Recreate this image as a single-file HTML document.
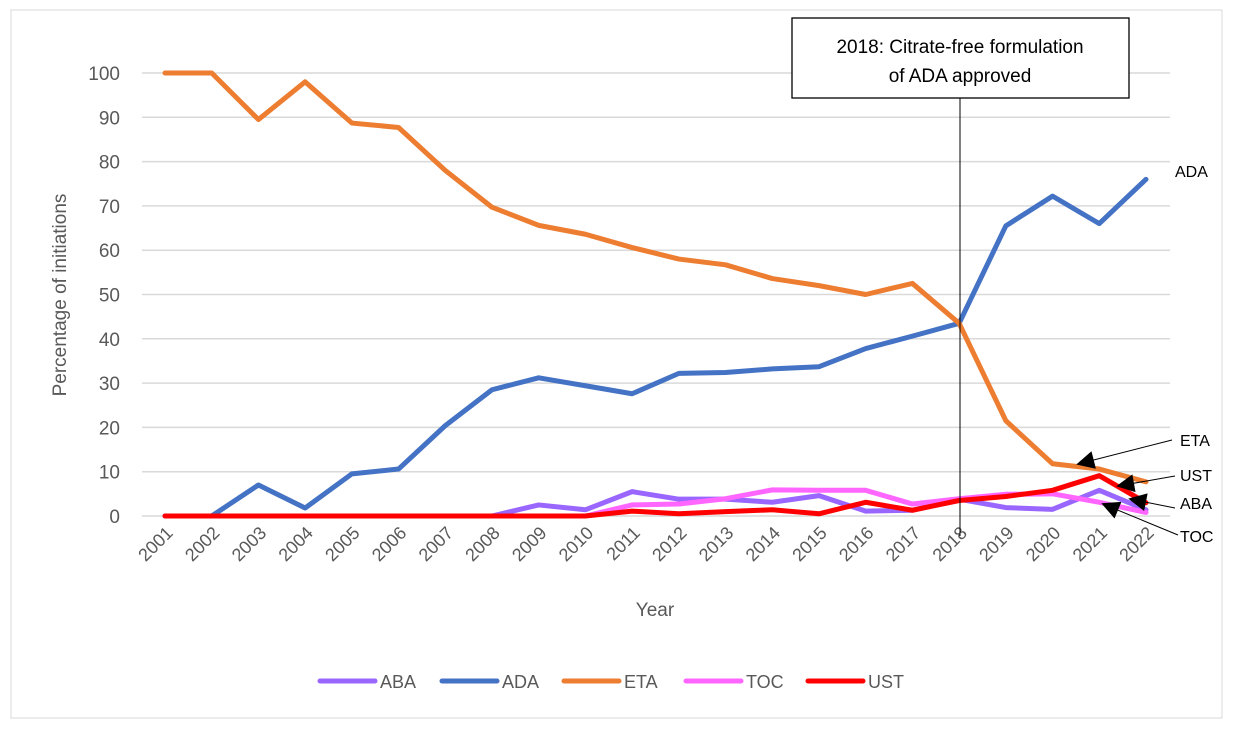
<!DOCTYPE html>
<html><head><meta charset="utf-8"><style>
body{margin:0;background:#fff;font-family:"Liberation Sans",sans-serif;}
</style></head><body>
<svg id="c" width="1233" height="732" xmlns="http://www.w3.org/2000/svg">
<defs><marker id="ah" viewBox="0 0 10 10" refX="9" refY="5" markerWidth="22" markerHeight="18" markerUnits="userSpaceOnUse" orient="auto"><path d="M0,0L10,5L0,10z" fill="#000"/></marker></defs>
<rect x="11" y="10" width="1211" height="708" fill="#fff" stroke="#d9d9d9"/>
<g id="grid"></g><g id="series"></g><g id="ticks"></g>
<line x1="960" y1="98" x2="960" y2="536" stroke="#000" stroke-width="1"/>
<rect x="792" y="18" width="337" height="80" fill="#fff" stroke="#000" stroke-width="1.3"/>
<text x="960" y="53" font-size="19" text-anchor="middle">2018: Citrate-free formulation</text>
<text x="960" y="82" font-size="19" text-anchor="middle">of ADA approved</text>
<text x="66" y="295" font-size="19" fill="#595959" text-anchor="middle" transform="rotate(-90 66 295)">Percentage of initiations</text>
<text x="655" y="616" font-size="19" fill="#595959" text-anchor="middle">Year</text>
<text x="1175" y="177" font-size="16">ADA</text>
<text x="1180" y="446" font-size="16">ETA</text>
<text x="1180" y="481" font-size="16">UST</text>
<text x="1180" y="509" font-size="16">ABA</text>
<text x="1180" y="542" font-size="16">TOC</text>
<line x1="1172" y1="440" x2="1078" y2="464" stroke="#000" marker-end="url(#ah)"/>
<line x1="1175" y1="476" x2="1118" y2="486" stroke="#000" marker-end="url(#ah)"/>
<line x1="1175" y1="508" x2="1130" y2="499" stroke="#000" marker-end="url(#ah)"/>
<line x1="1178" y1="535" x2="1103" y2="504" stroke="#000" marker-end="url(#ah)"/>
<g id="legend"></g>
</svg>
<script>
const years=[2001,2002,2003,2004,2005,2006,2007,2008,2009,2010,2011,2012,2013,2014,2015,2016,2017,2018,2019,2020,2021,2022];
const aba=[0,0,0,0,0,0,0,0,2.5,1.4,5.5,3.8,3.8,3.1,4.6,1.1,1.3,3.8,1.9,1.5,5.8,1.4];
const ada=[0,0,7,1.8,9.5,10.6,20.4,28.5,31.2,29.4,27.6,32.2,32.4,33.2,33.7,37.8,40.6,43.5,65.5,72.2,66,76];
const eta=[100,100,89.5,98,88.7,87.7,78,69.7,65.6,63.6,60.6,58,56.7,53.6,52,50,52.5,43.5,21.5,11.8,10.6,7.7];
const toc=[0,0,0,0,0,0,0,0,0,0,2.5,2.7,3.9,5.9,5.8,5.8,2.7,3.9,4.9,5,3.1,0.8];
const ust=[0,0,0,0,0,0,0,0,0,0,1.1,0.5,1,1.4,0.5,3.1,1.3,3.5,4.4,5.8,9.1,3];
const yTicks=[0,10,20,30,40,50,60,70,80,90,100];
const names=["ABA","ADA","ETA","TOC","UST"];
const colors=["#9966ff","#4472c4","#ed7d31","#ff66ff","#ff0000"];
const NS="http://www.w3.org/2000/svg";
const x=i=>165+i*(1146-165)/(years.length-1);
const y=v=>516-v*(516-73)/100;
function mk(t,a,p){const e=document.createElementNS(NS,t);for(const k in a)e.setAttribute(k,a[k]);document.getElementById(p).appendChild(e);return e;}
yTicks.forEach(v=>{
 const l=mk('line',{x1:142,x2:1170,y1:y(v),y2:y(v),stroke:'#d9d9d9','stroke-width':1.5},'grid');
 
 
 const t=mk('text',{x:120,y:y(v)+7,'font-size':19,fill:'#595959','text-anchor':'end'},'ticks');
 t.textContent=v;
 
 
});
years.forEach((yr,i)=>{
 const t=mk('text',{x:x(i)+9,y:534,'font-size':18,fill:'#595959','text-anchor':'end',transform:`rotate(-45 ${x(i)+9} 534)`},'ticks');
 t.textContent=yr;
 
 
});
[aba,ada,eta,toc,ust].forEach((s,k)=>{
 const p=mk('polyline',{points:s.map((v,i)=>x(i)+','+y(v)).join(' '),fill:'none',stroke:colors[k],'stroke-width':5,'stroke-linejoin':'round','stroke-linecap':'round'},'series');
 
 
 const lx=320+k*122;
 const l=mk('line',{x1:lx,x2:lx+55,y1:681,y2:681,stroke:colors[k],'stroke-width':5,'stroke-linecap':'round'},'legend');
 
 
 const t=mk('text',{x:lx+60,y:688,'font-size':18,fill:'#595959'},'legend');
 t.textContent=names[k];
 
 
});
</script>
</body></html>
